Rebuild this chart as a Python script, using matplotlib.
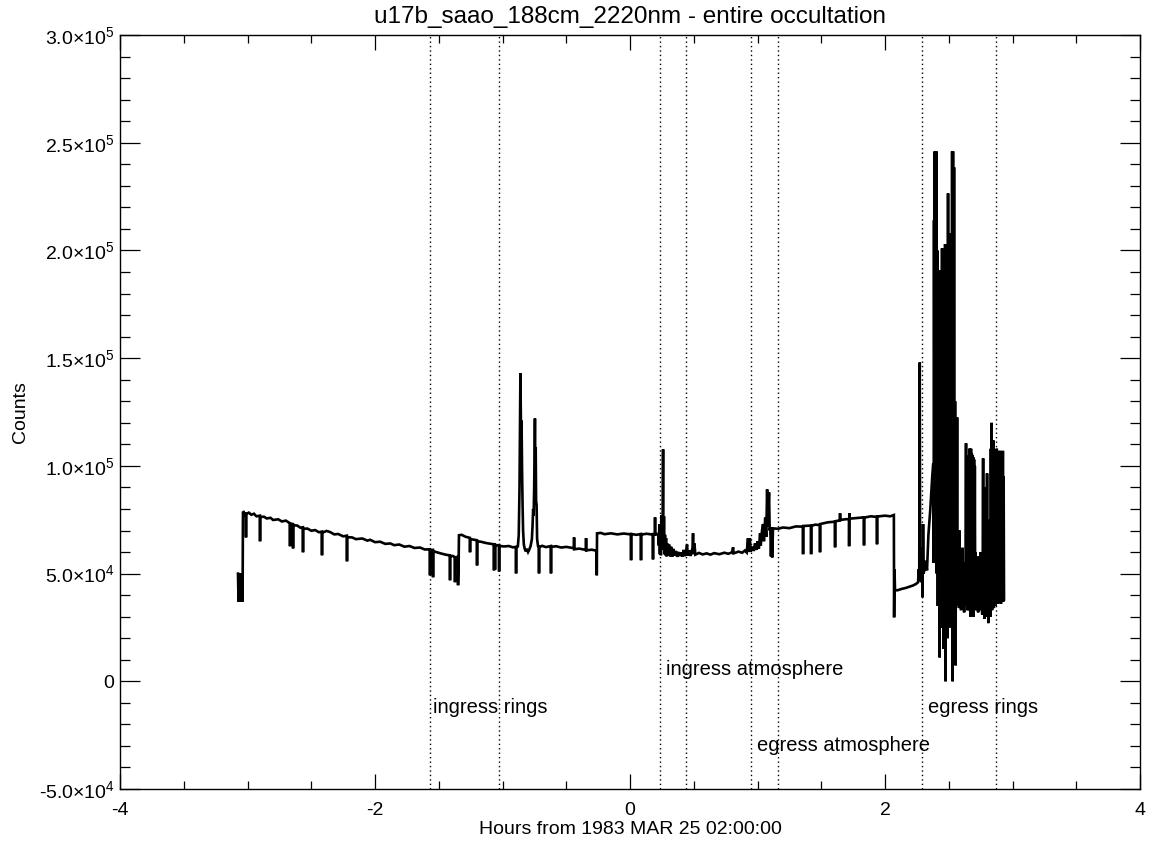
import matplotlib
matplotlib.use("Agg")
import matplotlib.pyplot as plt
from matplotlib.ticker import MultipleLocator, FuncFormatter
import math

plt.rcParams['font.family'] = ['Liberation Sans', 'DejaVu Sans']
plt.rcParams['mathtext.fontset'] = 'custom'
plt.rcParams['mathtext.rm'] = 'Liberation Sans'
plt.rcParams['mathtext.it'] = 'Liberation Sans:italic'
plt.rcParams['mathtext.bf'] = 'Liberation Sans:bold'
plt.rcParams['axes.unicode_minus'] = False

title = "u17b_saao_188cm_2220nm - entire occultation"
xlabel = "Hours from 1983 MAR 25 02:00:00"
ylabel = "Counts"

# Event boundaries (hours) and their labels
event_lines = [-1.569, -1.027, 0.235, 0.439, 0.949, 1.161, 2.290, 2.871]
event_labels = ["ingress rings", "ingress atmosphere", "egress atmosphere", "egress rings"]
event_label_x = [-1.545, 0.282, 0.996, 2.337]
event_label_y = [-12000, 5500, -29700, -12000]

# Light curve: (hours, counts)
seg_pre = [
    (-3.075, 50000), (-3.071, 37000), (-3.067, 50000), (-3.063, 37000), (-3.059, 50000),
    (-3.055, 37000), (-3.051, 50000), (-3.047, 37000), (-3.043, 50000), (-3.039, 37000),
    (-3.036, 78400),
]
seg_1 = [
    (-3.030, 78600), (-3.020, 77600), (-3.013, 78200), (-3.012, 66800), (-3.011, 77600),
    (-2.990, 78300), (-2.970, 77300), (-2.950, 77800), (-2.930, 76600), (-2.903, 76900),
    (-2.902, 65000), (-2.901, 76300), (-2.870, 76400), (-2.850, 75600), (-2.820, 75900),
    (-2.800, 74900), (-2.760, 75200), (-2.730, 74200), (-2.700, 74600), (-2.668, 73400),
    (-2.667, 62700), (-2.666, 73200), (-2.644, 73000), (-2.643, 61700), (-2.642, 72500),
    (-2.610, 72300), (-2.585, 71300), (-2.566, 71500), (-2.565, 59900), (-2.564, 70800),
    (-2.530, 70900), (-2.500, 69900), (-2.470, 70200), (-2.440, 69200), (-2.417, 69500),
    (-2.416, 58500), (-2.415, 69000), (-2.380, 69800), (-2.353, 69300), (-2.320, 68200),
    (-2.290, 68400), (-2.250, 67300), (-2.221, 67600), (-2.220, 55700), (-2.219, 66900),
    (-2.180, 66800), (-2.150, 66000), (-2.100, 66300), (-2.060, 65300), (-2.039, 65700),
    (-2.000, 64600), (-1.960, 64800), (-1.920, 63800), (-1.880, 64000), (-1.850, 63200),
    (-1.810, 63500), (-1.770, 62500), (-1.730, 62800), (-1.690, 61900), (-1.647, 62100),
    (-1.610, 61200), (-1.570, 61300), (-1.569, 49200), (-1.568, 60800), (-1.546, 61000),
    (-1.545, 48300), (-1.544, 60400), (-1.510, 59800), (-1.480, 59300), (-1.440, 58700),
    (-1.413, 58500), (-1.412, 46900), (-1.411, 58000), (-1.390, 58200), (-1.374, 57600),
    (-1.373, 46000), (-1.372, 57500), (-1.350, 57800), (-1.349, 44600), (-1.344, 57400),
    (-1.342, 67800),
]
seg_2 = [
    (-1.320, 68000), (-1.290, 67100), (-1.256, 66600), (-1.255, 59900), (-1.254, 66000),
    (-1.230, 65800), (-1.201, 65500), (-1.200, 53800), (-1.199, 65000), (-1.170, 64800),
    (-1.130, 64200), (-1.100, 63900), (-1.068, 63600), (-1.067, 51500), (-1.066, 63300),
    (-1.060, 63400), (-1.059, 51800), (-1.058, 63100), (-1.028, 63200), (-1.027, 51000),
    (-1.026, 62900), (-0.990, 62600), (-0.950, 62800), (-0.920, 62200), (-0.895, 62400),
    (-0.894, 50100), (-0.893, 62000), (-0.880, 62600), (-0.873, 68000), (-0.867, 90000),
    (-0.863, 118000), (-0.860, 143000), (-0.857, 126000), (-0.854, 109000), (-0.851, 121000),
    (-0.847, 98000), (-0.843, 82000), (-0.839, 70000), (-0.833, 63500), (-0.826, 61500),
    (-0.818, 60300), (-0.810, 61500), (-0.800, 60000), (-0.790, 61200), (-0.780, 62800),
    (-0.770, 66000), (-0.765, 72000), (-0.760, 80000), (-0.756, 77000), (-0.752, 90000),
    (-0.749, 108000), (-0.746, 122000), (-0.743, 100000), (-0.740, 108600), (-0.737, 84000),
    (-0.733, 81700), (-0.729, 66000), (-0.722, 62800), (-0.715, 62500), (-0.714, 50100),
    (-0.713, 62200), (-0.690, 62900), (-0.660, 62300), (-0.621, 62800), (-0.620, 50100),
    (-0.619, 62400), (-0.580, 62700), (-0.540, 62100), (-0.500, 62400), (-0.440, 61800),
    (-0.439, 66800), (-0.438, 61300), (-0.400, 61600), (-0.346, 61000), (-0.345, 66500),
    (-0.344, 60800), (-0.300, 61100), (-0.262, 60600), (-0.261, 49200), (-0.259, 68700),
]
seg_3 = [
    (-0.230, 68900), (-0.200, 68300), (-0.150, 68700), (-0.100, 68200), (-0.050, 68600),
    (0.007, 68200), (0.008, 56200), (0.009, 68400), (0.050, 68000), (0.085, 68400),
    (0.086, 56200), (0.087, 68100), (0.130, 68500), (0.179, 68100), (0.180, 56600),
    (0.181, 68300), (0.195, 68200), (0.196, 76100), (0.197, 68200), (0.220, 68400),
    (0.226, 63000), (0.230, 73000), (0.234, 59000), (0.238, 71000), (0.242, 58500),
    (0.246, 77000), (0.250, 63000), (0.255, 70000), (0.259, 107700), (0.262, 61000),
    (0.266, 76600), (0.270, 59000), (0.274, 68000), (0.278, 58500), (0.282, 66500),
    (0.286, 58000), (0.292, 64000), (0.298, 58500), (0.306, 63500), (0.314, 58000),
    (0.322, 62500), (0.330, 57800), (0.340, 61500), (0.350, 58300), (0.360, 60500),
    (0.370, 57800), (0.380, 60000), (0.390, 58200), (0.400, 59800), (0.410, 57900),
    (0.420, 61000), (0.430, 58100), (0.440, 60500), (0.447, 63500), (0.452, 58400),
    (0.465, 60800), (0.475, 58200), (0.490, 62000), (0.494, 68700), (0.498, 59000),
    (0.505, 64000), (0.512, 58800), (0.540, 59600), (0.570, 58900), (0.600, 59400),
    (0.630, 58800), (0.660, 59500), (0.700, 59000), (0.740, 59700), (0.770, 59200),
    (0.800, 59900), (0.808, 62200), (0.812, 59400), (0.850, 60200), (0.880, 59700),
    (0.900, 60700), (0.915, 59800), (0.925, 66400), (0.930, 60000), (0.940, 66400),
    (0.945, 60200), (0.960, 62500), (0.970, 60500), (0.980, 64000), (0.990, 61000),
    (1.000, 65000), (1.010, 61500), (1.020, 68700), (1.025, 63000), (1.035, 70000),
    (1.043, 73000), (1.050, 65000), (1.060, 76000), (1.068, 67000), (1.075, 89100),
    (1.080, 72000), (1.085, 80000), (1.090, 87700), (1.095, 70000), (1.100, 71500),
    (1.105, 58000), (1.110, 70000), (1.115, 57500), (1.121, 71000),
]
seg_4 = [
    (1.160, 70800), (1.200, 71400), (1.250, 71100), (1.300, 71900), (1.356, 71800),
    (1.357, 59000), (1.358, 72100), (1.419, 72300), (1.420, 59000), (1.421, 72100),
    (1.450, 72700), (1.489, 72600), (1.490, 59900), (1.491, 73000), (1.550, 73800),
    (1.607, 74100), (1.608, 62200), (1.609, 74300), (1.646, 74700), (1.647, 78000),
    (1.648, 74900), (1.700, 75300), (1.717, 75100), (1.718, 62700), (1.719, 75400),
    (1.720, 78000), (1.721, 75500), (1.780, 75800), (1.834, 76100), (1.835, 63100),
    (1.836, 76000), (1.890, 76600), (1.936, 76300), (1.937, 63600), (1.938, 76500),
    (2.000, 76900), (2.040, 76600), (2.069, 77200),
]
seg_5 = [
    (2.071, 29700), (2.074, 52000), (2.078, 42200), (2.100, 42300), (2.130, 42900),
    (2.160, 43300), (2.190, 43900), (2.220, 44500), (2.245, 45300), (2.259, 46000),
    (2.264, 52000), (2.268, 46500), (2.272, 148000), (2.275, 47000), (2.280, 62000),
    (2.284, 46000), (2.290, 57000), (2.294, 39000), (2.298, 73000), (2.302, 50000),
    (2.310, 52000), (2.318, 56000), (2.329, 51500), (2.340, 68000), (2.355, 80000),
    (2.370, 95000), (2.378, 101000), (2.381, 55000), (2.384, 214000), (2.387, 90000),
    (2.390, 246000), (2.393, 140000), (2.396, 246000), (2.399, 110000), (2.402, 246000),
    (2.406, 50000), (2.410, 200000), (2.414, 35000), (2.418, 190000), (2.422, 60000),
    (2.425, 190800), (2.428, 11100), (2.432, 160000), (2.436, 40000), (2.440, 185000),
    (2.444, 25000), (2.447, 201000), (2.451, 30000), (2.455, 195000), (2.459, 15000),
    (2.463, 180000), (2.467, 40000), (2.471, 203000), (2.475, 0), (2.479, 170000),
    (2.483, 30000), (2.487, 200000), (2.490, 20000), (2.494, 226500), (2.498, 35000),
    (2.502, 190000), (2.506, 25000), (2.510, 206000), (2.514, 40000), (2.518, 208000),
    (2.522, 30000), (2.526, 246000), (2.530, 0), (2.533, 246000), (2.537, 20000),
    (2.541, 238600), (2.545, 45000), (2.549, 130000), (2.553, 7400), (2.557, 100000),
    (2.561, 35000),
]
seg_6 = [
    (2.565, 122500), (2.568, 40000), (2.571, 55000), (2.574, 36000), (2.577, 60000),
    (2.580, 34000), (2.584, 70000), (2.588, 38000), (2.592, 52000), (2.596, 33000),
    (2.600, 58000), (2.604, 36000), (2.608, 62000), (2.612, 35000), (2.616, 55000),
    (2.620, 32000), (2.624, 50000), (2.628, 38000), (2.632, 60000), (2.635, 110500),
    (2.638, 35000), (2.642, 52000), (2.646, 33000), (2.650, 102000), (2.653, 35000),
    (2.656, 105000), (2.659, 33000), (2.662, 108000), (2.665, 36000), (2.668, 107000),
    (2.671, 30000), (2.674, 108000), (2.677, 35000), (2.680, 106000), (2.683, 32000),
    (2.686, 105000), (2.689, 36000), (2.692, 104000), (2.695, 30000), (2.698, 103000),
    (2.701, 34000), (2.704, 100000), (2.707, 37000), (2.710, 60000), (2.714, 33000),
    (2.718, 55000), (2.722, 36000), (2.726, 50000), (2.730, 32000), (2.734, 58000),
    (2.738, 35000), (2.742, 52000), (2.746, 33000), (2.750, 60000), (2.754, 38000),
    (2.758, 50000), (2.762, 31000), (2.766, 56000), (2.769, 103500), (2.772, 34000),
    (2.776, 50000), (2.780, 29000), (2.784, 58000), (2.788, 35000), (2.792, 90000),
    (2.796, 30000), (2.800, 96500), (2.803, 32000), (2.806, 55000), (2.810, 27000),
    (2.814, 60000), (2.818, 35000), (2.822, 75000), (2.826, 30000), (2.830, 108000),
    (2.833, 36000), (2.836, 120000), (2.839, 33000), (2.842, 80000), (2.846, 35000),
    (2.850, 111800), (2.853, 34000), (2.856, 90000), (2.860, 36000), (2.864, 106000),
    (2.867, 35000), (2.870, 100000), (2.873, 37000), (2.876, 108000), (2.879, 38000),
    (2.882, 104000), (2.885, 36000), (2.888, 107000), (2.891, 38000), (2.894, 106000),
    (2.897, 37000), (2.900, 103000), (2.903, 38000), (2.906, 107000), (2.909, 36000),
    (2.912, 105000), (2.915, 37000), (2.918, 106000), (2.921, 38000), (2.924, 107000),
    (2.927, 37000), (2.930, 95000), (2.933, 38000),
]

series = seg_pre + seg_1 + seg_2 + seg_3 + seg_4 + seg_5 + seg_6
hours = [p[0] for p in series]
counts = [p[1] for p in series]

fig = plt.figure(figsize=(11.51, 8.42), dpi=100)
ax = fig.add_axes([0.1043, 0.0629, 0.8862, 0.8955])

ax.plot(hours, counts, color='black', lw=1.9, solid_joinstyle='miter')

for xv in event_lines:
    ax.axvline(xv, color='black', lw=1.0, linestyle=(0, (1, 2.2)))
for lab, lx, ly in zip(event_labels, event_label_x, event_label_y):
    ax.text(lx, ly, lab, fontsize=14.5, ha='left', va='center')

ax.set_xlim(-4, 4)
ax.set_ylim(-50000, 300000)
ax.xaxis.set_major_locator(MultipleLocator(2))
ax.xaxis.set_minor_locator(MultipleLocator(0.5))
ax.yaxis.set_major_locator(MultipleLocator(50000))
ax.yaxis.set_minor_locator(MultipleLocator(10000))


def yfmt(v, pos):
    if abs(v) < 1e-9:
        return "0"
    e = int(math.floor(math.log10(abs(v))))
    m = v / 10 ** e
    return r"%.1f$\times$10$^{%d}$" % (m, e)


def xfmt(v, pos):
    return "%d" % round(v)


ax.yaxis.set_major_formatter(FuncFormatter(yfmt))
ax.xaxis.set_major_formatter(FuncFormatter(xfmt))

ax.tick_params(axis='both', which='both', direction='in', top=True, right=True,
               labelsize=14, width=0.9, colors='black')
ax.tick_params(axis='x', which='major', length=11, pad=9)
ax.tick_params(axis='x', which='minor', length=5.5)
ax.tick_params(axis='y', which='major', length=14.4, pad=4)
ax.tick_params(axis='y', which='minor', length=7.2)
for s in ax.spines.values():
    s.set_linewidth(1.0)

ax.set_title(title, fontsize=17.5, pad=9)
ax.set_xlabel(xlabel, fontsize=14, labelpad=2)
ax.set_ylabel(ylabel, fontsize=14, labelpad=7)

fig.savefig("out.png", dpi=100)
